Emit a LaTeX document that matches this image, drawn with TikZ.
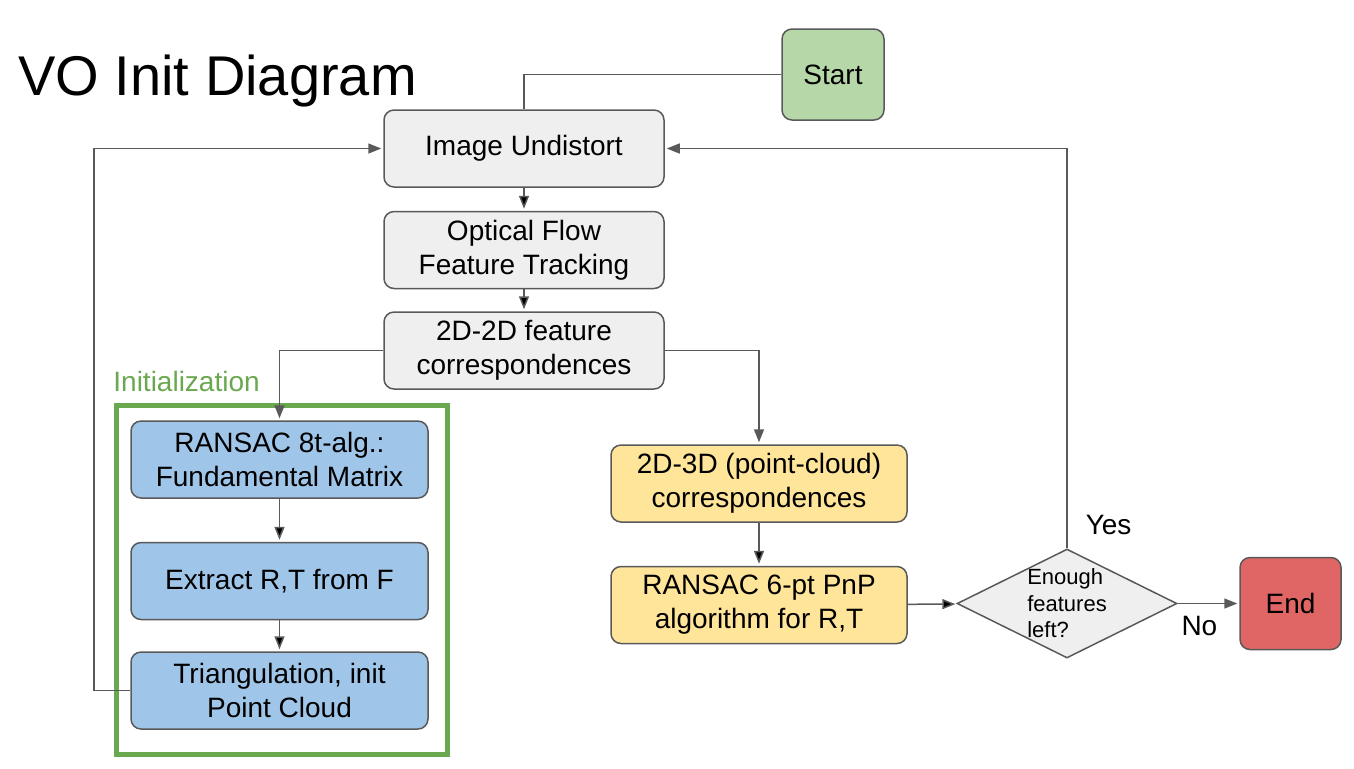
\documentclass[tikz,border=0pt]{standalone}
\usepackage{fontspec}
\setmainfont{Liberation Sans}
\usepackage{xcolor}
\usetikzlibrary{shapes.geometric, positioning, arrows.meta}
\definecolor{linegray}{HTML}{595959}
\definecolor{boxgray}{HTML}{EFEFEF}
\definecolor{initblue}{HTML}{9FC5E8}
\definecolor{pnpyellow}{HTML}{FFE599}
\definecolor{startgreen}{HTML}{B6D7A8}
\definecolor{endred}{HTML}{E06666}
\definecolor{framegreen}{HTML}{6AA84F}
\tikzset{
    >={Triangle[length=6.5pt,width=5pt]},       % filled triangle heads
    block/.style={draw=linegray, line width=0.75pt, rounded corners=5pt,
        minimum width=140pt, minimum height=38.5pt, align=center,
        inner sep=0pt, font=\fontsize{14}{17}\selectfont},   % the rounded boxes
    link/.style={draw=linegray, line width=0.75pt},          % plain connector
    arrow/.style={link, ->, shorten >=1pt},                  % directed connector
}

\begin{document}
\begin{tikzpicture}[x=0.5pt, y=-0.5pt]
\useasboundingbox (0,0) rectangle (1354,768);

\node[anchor=base west, inner sep=0pt, font=\fontsize{28}{34}\selectfont] (title) at (18,95) {VO Init Diagram};

\node[block, fill=startgreen, minimum width=51pt, minimum height=45.5pt] (start) at (833,74.5) {Start};
\node[block, fill=boxgray] (undist) at (524,148.5) {Image Undistort};
\node[block, fill=boxgray, below=11.5pt of undist] (optflow) {Optical Flow\\Feature Tracking};
\node[block, fill=boxgray, below=11pt of optflow] (corr2d) {2D-2D feature\\correspondences};

% initialization part
\node[anchor=base west, inner sep=0pt, text=framegreen, font=\fontsize{14}{17}\selectfont] (initlabel) at (113,391) {Initialization};
\draw[framegreen, line width=2.5pt] (116.5,405.5) rectangle (447.5,754.5);
\node[block, fill=initblue, minimum width=148.5pt] (fmat) at (279.5,459.5) {RANSAC 8t-alg.:\\Fundamental Matrix};
\node[block, fill=initblue, minimum width=148.5pt, below=21.5pt of fmat] (extract) {Extract R,T from F};
\node[block, fill=initblue, minimum width=148.5pt, below=15.5pt of extract] (triang) {Triangulation, init\\Point Cloud};

% tracking part
\node[block, fill=pnpyellow, minimum width=148pt] (corr3d) at (759,483.5) {2D-3D (point-cloud)\\correspondences};
\node[block, fill=pnpyellow, minimum width=148pt, below=21.5pt of corr3d] (pnp) {RANSAC 6-pt PnP\\algorithm for R,T};
\node[diamond, draw=linegray, line width=0.75pt, fill=boxgray, inner sep=0pt,
      minimum width=110pt, minimum height=54.5pt,
      label={[align=left, font=\fontsize{11}{13.25}\selectfont]center:Enough\\features\\left?}] (check) at (1067,603.5) {};
\node[block, fill=endred, minimum width=50.5pt, minimum height=46pt] (stop) at (1290.5,603.5) {End};

\coordinate (backL) at (94,0);

\draw[arrow]
(undist) edge (optflow)
(optflow) edge (corr2d)
(fmat) edge (extract)
(extract) edge (triang)
(corr3d) edge (pnp)
(pnp) edge (check);

\draw[link] (start.west) -| (undist.north);
\draw[arrow] (corr2d.west) -| (fmat.north);
\draw[arrow] (corr2d.east) -| (corr3d.north);
\draw[arrow] (triang.west) -- (triang.west -| backL) |- (undist.west);
\draw[arrow] (check.north) node[anchor=base west, inner sep=0pt, xshift=9pt, yshift=7pt, font=\fontsize{14}{17}\selectfont]{Yes} |- (undist.east);
\draw[arrow] (check.east) node[anchor=base west, inner sep=0pt, xshift=1.5pt, yshift=-16pt, font=\fontsize{14}{17}\selectfont]{No} -- (stop.west);

\end{tikzpicture}
\end{document}
